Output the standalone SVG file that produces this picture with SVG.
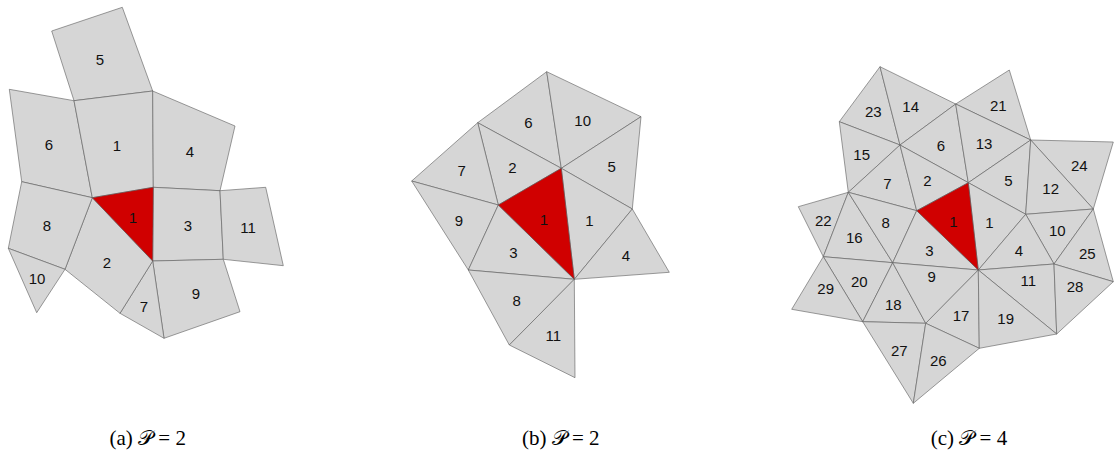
<svg xmlns="http://www.w3.org/2000/svg" width="1114" height="450" viewBox="0 0 1114 450">
<style>
.c{fill:#d6d6d6;stroke:#5a5a5a;stroke-width:0.6;stroke-linejoin:round}
.r{fill:#d00000;stroke:#5a5a5a;stroke-width:0.6;stroke-linejoin:round}
.l{font-family:"Liberation Sans",Arial,sans-serif;font-size:15px;fill:#111;text-anchor:middle;dominant-baseline:central}
.cap{font-family:"Liberation Serif","DejaVu Serif",serif;font-size:21px;fill:#000;text-anchor:middle}
</style>
<rect width="1114" height="450" fill="#fff"/>
<g id="panel-a">
<g id="a5"><polygon class="c" points="51.7,31 122.3,7.3 152.7,91 74,100.7"/><text class="l" x="100" y="59">5</text></g>
<g id="a6"><polygon class="c" points="9.3,89.3 74,100.7 92.3,197.7 21.7,181.7"/><text class="l" x="49" y="144">6</text></g>
<g id="a1q"><polygon class="c" points="74,100.7 152.7,91 153.3,187.3 92.3,197.7"/><text class="l" x="117" y="145">1</text></g>
<g id="a4"><polygon class="c" points="152.7,91 235,126 220,190.7 153.3,187.3"/><text class="l" x="190" y="151">4</text></g>
<g id="a3"><polygon class="c" points="153.3,187.3 220,190.7 223.3,259.3 152.7,261"/><text class="l" x="188" y="225">3</text></g>
<g id="a11"><polygon class="c" points="220,190.7 265.7,187.3 283.3,265.7 223.3,259.3"/><text class="l" x="248" y="227">11</text></g>
<g id="a9"><polygon class="c" points="152.7,261 223.3,259.3 240,311.7 164,338.3"/><text class="l" x="196" y="293">9</text></g>
<g id="a7"><polygon class="c" points="152.7,261 164,338.3 120,313.3"/><text class="l" x="144" y="306">7</text></g>
<g id="a2"><polygon class="c" points="92.3,197.7 152.7,261 120,313.3 65,269.3"/><text class="l" x="107" y="262">2</text></g>
<g id="a8"><polygon class="c" points="21.7,181.7 92.3,197.7 65,269.3 8.3,248.3"/><text class="l" x="47" y="225">8</text></g>
<g id="a10"><polygon class="c" points="8.3,248.3 65,269.3 36.7,312.7"/><text class="l" x="37" y="278">10</text></g>
<g id="a1"><polygon class="r" points="92.3,197.7 153.3,187.3 152.7,261"/><text class="l" x="133" y="217">1</text></g>
</g>
<g id="panel-b">
<g id="b6"><polygon class="c" points="477.7,122.7 546.7,71.7 561.3,168.3"/><text class="l" x="528.3" y="122.7">6</text></g>
<g id="b10"><polygon class="c" points="546.7,71.7 641,116.7 561.3,168.3"/><text class="l" x="582.7" y="120">10</text></g>
<g id="b5"><polygon class="c" points="561.3,168.3 641,116.7 632.3,209"/><text class="l" x="611.7" y="166">5</text></g>
<g id="b2"><polygon class="c" points="477.7,122.7 561.3,168.3 498.3,205"/><text class="l" x="512.3" y="167.3">2</text></g>
<g id="b7"><polygon class="c" points="411.7,181 477.7,122.7 498.3,205"/><text class="l" x="461.7" y="170">7</text></g>
<g id="b9"><polygon class="c" points="411.7,181 498.3,205 468.3,270"/><text class="l" x="459" y="220">9</text></g>
<g id="b1b"><polygon class="c" points="561.3,168.3 632.3,209 574.3,279.3"/><text class="l" x="589.3" y="220">1</text></g>
<g id="b4"><polygon class="c" points="632.3,209 669.3,272.3 574.3,279.3"/><text class="l" x="626" y="255">4</text></g>
<g id="b3"><polygon class="c" points="498.3,205 574.3,279.3 468.3,270"/><text class="l" x="513.3" y="252.7">3</text></g>
<g id="b8"><polygon class="c" points="468.3,270 574.3,279.3 509.3,345"/><text class="l" x="516.7" y="300.7">8</text></g>
<g id="b11"><polygon class="c" points="509.3,345 574.3,279.3 575,377.7"/><text class="l" x="553.3" y="335.3">11</text></g>
<g id="b1"><polygon class="r" points="498.3,205 561.3,168.3 574.3,279.3"/><text class="l" x="544" y="219.3">1</text></g>
</g>
<g id="panel-c">
<g id="c23"><polygon class="c" points="880,66.7 839.3,121.7 900,145"/><text class="l" x="873.3" y="111.7">23</text></g>
<g id="c14"><polygon class="c" points="880,66.7 955.7,104 900,145"/><text class="l" x="910.7" y="106.7">14</text></g>
<g id="c21"><polygon class="c" points="955.7,104 1009.3,70 1030.7,140"/><text class="l" x="998.3" y="105">21</text></g>
<g id="c6"><polygon class="c" points="900,145 955.7,104 968.3,182.7"/><text class="l" x="941" y="145">6</text></g>
<g id="c13"><polygon class="c" points="955.7,104 1030.7,140 968.3,182.7"/><text class="l" x="984" y="143.3">13</text></g>
<g id="c24"><polygon class="c" points="1030.7,140 1113.3,142 1093.3,209"/><text class="l" x="1079.3" y="165">24</text></g>
<g id="c15"><polygon class="c" points="839.3,121.7 900,145 848.3,192.3"/><text class="l" x="861.7" y="154">15</text></g>
<g id="c7"><polygon class="c" points="848.3,192.3 900,145 916.7,210.7"/><text class="l" x="887.3" y="183.3">7</text></g>
<g id="c2"><polygon class="c" points="900,145 968.3,182.7 916.7,210.7"/><text class="l" x="927.3" y="180">2</text></g>
<g id="c5"><polygon class="c" points="968.3,182.7 1030.7,140 1025.7,214.3"/><text class="l" x="1008.3" y="180">5</text></g>
<g id="c12"><polygon class="c" points="1030.7,140 1093.3,209 1025.7,214.3"/><text class="l" x="1050.7" y="188.3">12</text></g>
<g id="c1b"><polygon class="c" points="968.3,182.7 1025.7,214.3 978.3,270"/><text class="l" x="989.3" y="222.3">1</text></g>
<g id="c10"><polygon class="c" points="1025.7,214.3 1093.3,209 1054,264"/><text class="l" x="1057.3" y="230">10</text></g>
<g id="c4"><polygon class="c" points="1025.7,214.3 1054,264 978.3,270"/><text class="l" x="1019" y="250.7">4</text></g>
<g id="c25"><polygon class="c" points="1093.3,209 1113.3,281.7 1054,264"/><text class="l" x="1087.3" y="253.3">25</text></g>
<g id="c22"><polygon class="c" points="798.3,206.7 848.3,192.3 823.3,256.7"/><text class="l" x="823.3" y="220">22</text></g>
<g id="c16"><polygon class="c" points="848.3,192.3 892.7,262.7 823.3,256.7"/><text class="l" x="854.3" y="237.7">16</text></g>
<g id="c8"><polygon class="c" points="848.3,192.3 916.7,210.7 892.7,262.7"/><text class="l" x="885.7" y="222.7">8</text></g>
<g id="c3"><polygon class="c" points="916.7,210.7 978.3,270 892.7,262.7"/><text class="l" x="929.3" y="250">3</text></g>
<g id="c20"><polygon class="c" points="823.3,256.7 892.7,262.7 862.7,321.7"/><text class="l" x="859.3" y="281">20</text></g>
<g id="c29"><polygon class="c" points="823.3,256.7 862.7,321.7 791.7,309.3"/><text class="l" x="825.7" y="288.3">29</text></g>
<g id="c18"><polygon class="c" points="892.7,262.7 925.7,323.3 862.7,321.7"/><text class="l" x="893.3" y="304.3">18</text></g>
<g id="c9"><polygon class="c" points="892.7,262.7 978.3,270 925.7,323.3"/><text class="l" x="931.7" y="276.7">9</text></g>
<g id="c17"><polygon class="c" points="925.7,323.3 978.3,270 979.3,348.3"/><text class="l" x="961" y="315">17</text></g>
<g id="c11"><polygon class="c" points="978.3,270 1054,264 1056.7,334"/><text class="l" x="1028.3" y="280">11</text></g>
<g id="c19"><polygon class="c" points="978.3,270 1056.7,334 979.3,348.3"/><text class="l" x="1005.7" y="318.3">19</text></g>
<g id="c28"><polygon class="c" points="1054,264 1113.3,281.7 1056.7,334"/><text class="l" x="1075" y="286">28</text></g>
<g id="c27"><polygon class="c" points="862.7,321.7 925.7,323.3 913.3,403.3"/><text class="l" x="899.3" y="350">27</text></g>
<g id="c26"><polygon class="c" points="925.7,323.3 979.3,348.3 913.3,403.3"/><text class="l" x="938.3" y="360">26</text></g>
<g id="c1"><polygon class="r" points="916.7,210.7 968.3,182.7 978.3,270"/><text class="l" x="953.3" y="221.7">1</text></g>
</g>
<g id="captions">
<text class="cap" x="147.7" y="445">(a) 𝒫 = 2</text>
<text class="cap" x="560.7" y="445">(b) 𝒫 = 2</text>
<text class="cap" x="969" y="445">(c) 𝒫 = 4</text>
</g>
</svg>
